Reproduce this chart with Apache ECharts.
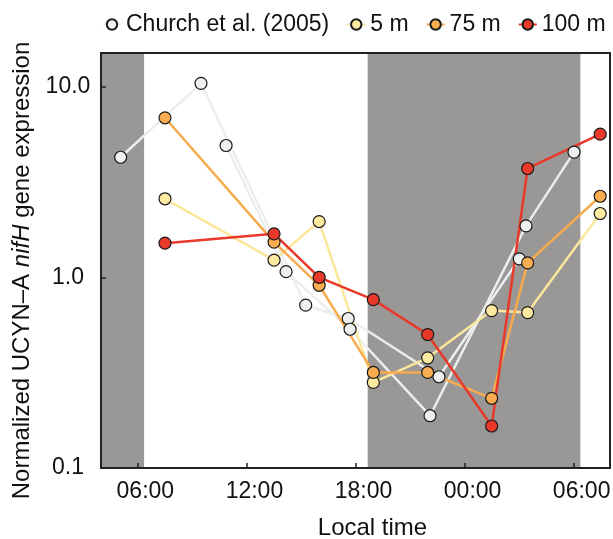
<!DOCTYPE html>
<html lang="en">
<head>
<meta charset="utf-8">
<script src="https://cdn.jsdelivr.net/npm/echarts@6/dist/echarts.min.js"></script>
<title>nifH expression</title>
<style>
  html, body { margin: 0; padding: 0; background: #fff; }
  #chart { width: 613px; height: 539px; }
</style>
</head>
<body>
<div id="chart"></div>
<script>
// x ticks (hours from midnight of day 1)
var xTickHours = [6, 12, 18, 24, 30];
var xTickLabels = ['06:00', '12:00', '18:00', '00:00', '06:00'];

// night (shaded) periods, hours
var nightStart = [4, 18.67];
var nightEnd = [6.37, 30.37];

// Church et al. (2005), two diel sets
var churchTimeA = [5.08, 9.5, 15.26, 17.6, 22.59, 27.01];
var churchValA = [4.26, 10.4, 0.714, 0.608, 0.301, 1.25];
var churchTimeB = [10.88, 14.18, 17.7, 22.1, 27.38, 30.02];
var churchValB = [4.91, 1.07, 0.534, 0.188, 1.86, 4.53];

// this study
var sampleTime = [7.52, 13.52, 16.0, 18.98, 21.97, 25.49, 27.47, 31.46];
var val5m = [2.58, 1.23, 1.96, 0.281, 0.378, 0.669, 0.653, 2.16];
var val75m = [6.86, 1.53, 0.908, 0.317, 0.317, 0.232, 1.19, 2.66];
var val100m = [1.51, 1.69, 1.0, 0.764, 0.501, 0.166, 3.72, 5.63];

var FONT = "'Liberation Sans', Arial, Helvetica, sans-serif";

function pairs(xs, ys) {
    return xs.map(function (x, i) { return [x, ys[i]]; });
}

function lineSeries(name, xs, ys, lineColor, fill) {
    return {
        name: name,
        type: 'line',
        xAxisIndex: 0,
        yAxisIndex: 0,
        data: pairs(xs, ys),
        symbol: 'circle',
        symbolSize: 12,
        lineStyle: { color: lineColor, width: 2.5 },
        itemStyle: { color: fill, borderColor: '#1a1a1a', borderWidth: 1.2 },
        emphasis: { disabled: true },
        z: 3
    };
}

var shade = [];
for (var i = 0; i < nightStart.length; i++) {
    shade.push([{ xAxis: nightStart[i] }, { xAxis: nightEnd[i] }]);
}

var myChart = echarts.init(document.getElementById('chart'));
var option = {
    backgroundColor: '#fff',
    animation: false,
    textStyle: { fontFamily: FONT },
    legend: {
        data: ['Church et al. (2005)', '5 m', '75 m', '100 m'],
        left: 97,
        right: 0,
        top: 8,
        itemWidth: 18,
        itemHeight: 13,
        itemGap: 17,
        textStyle: { fontSize: 23, color: '#111', fontFamily: FONT }
    },
    grid: { left: 101, right: 3, top: 53, bottom: 71, containLabel: false, outerBoundsMode: 'none' },
    xAxis: [{
        type: 'value',
        min: 4,
        max: 32,
        name: 'Local time',
        nameLocation: 'middle',
        nameGap: 48,
        nameTextStyle: { fontSize: 24, color: '#111', padding: [0, 0, 0, 34] },
        axisLine: { show: true, lineStyle: { color: '#222', width: 2 } },
        axisTick: { show: true, inside: true, length: 5, customValues: xTickHours, lineStyle: { color: '#222', width: 1.5 } },
        axisLabel: {
            customValues: xTickHours,
            fontSize: 23,
            color: '#111',
            margin: 12,
            padding: [0, 0, 0, 16],
            formatter: function (v) { return xTickLabels[xTickHours.indexOf(v)]; }
        },
        splitLine: { show: false },
        z: 5
    }, {
        type: 'value', position: 'top', min: 4, max: 32,
        axisLine: { show: true, lineStyle: { color: '#222', width: 2 } },
        axisTick: { show: false }, axisLabel: { show: false }, splitLine: { show: false },
        z: 5
    }],
    yAxis: [{
        type: 'log',
        logBase: 10,
        min: 0.1,
        max: 15,
        name: '{n|Normalized UCYN–A }{i|nifH}{n| gene expression}',
        nameLocation: 'middle',
        nameGap: 65,
        nameTextStyle: {
            padding: [0, 20, 0, 0],
            rich: {
                n: { fontSize: 24, color: '#111', fontFamily: FONT },
                i: { fontSize: 24, color: '#111', fontFamily: FONT, fontStyle: 'italic' }
            }
        },
        axisLine: { show: true, lineStyle: { color: '#222', width: 2 } },
        axisTick: { show: true, inside: true, length: 5, lineStyle: { color: '#222', width: 1.5 } },
        axisLabel: {
            fontSize: 23,
            color: '#111',
            margin: 33,
            align: 'center',
            showMaxLabel: false,
            formatter: function (v) { return Number(v).toFixed(1); }
        },
        minorTick: { show: false },
        splitLine: { show: false },
        z: 5
    }, {
        type: 'log', logBase: 10, position: 'right', min: 0.1, max: 15,
        axisLine: { show: true, lineStyle: { color: '#222', width: 2 } },
        axisTick: { show: false }, axisLabel: { show: false }, splitLine: { show: false },
        z: 5
    }],
    series: [
        {
            type: 'line',
            data: [],
            silent: true,
            z: 1,
            markArea: {
                silent: true,
                itemStyle: { color: '#9a9896' },
                data: shade
            }
        },
        lineSeries('Church et al. (2005)', churchTimeA, churchValA, '#eceeee', '#eef0f0'),
        lineSeries('Church et al. (2005)', churchTimeB, churchValB, '#eceeee', '#eef0f0'),
        lineSeries('5 m', sampleTime, val5m, '#fbe79b', '#fde9a0'),
        lineSeries('75 m', sampleTime, val75m, '#f8ab4e', '#f9ad50'),
        lineSeries('100 m', sampleTime, val100m, '#e8392a', '#e8392a')
    ]
};
myChart.setOption(option);
</script>
</body>
</html>
